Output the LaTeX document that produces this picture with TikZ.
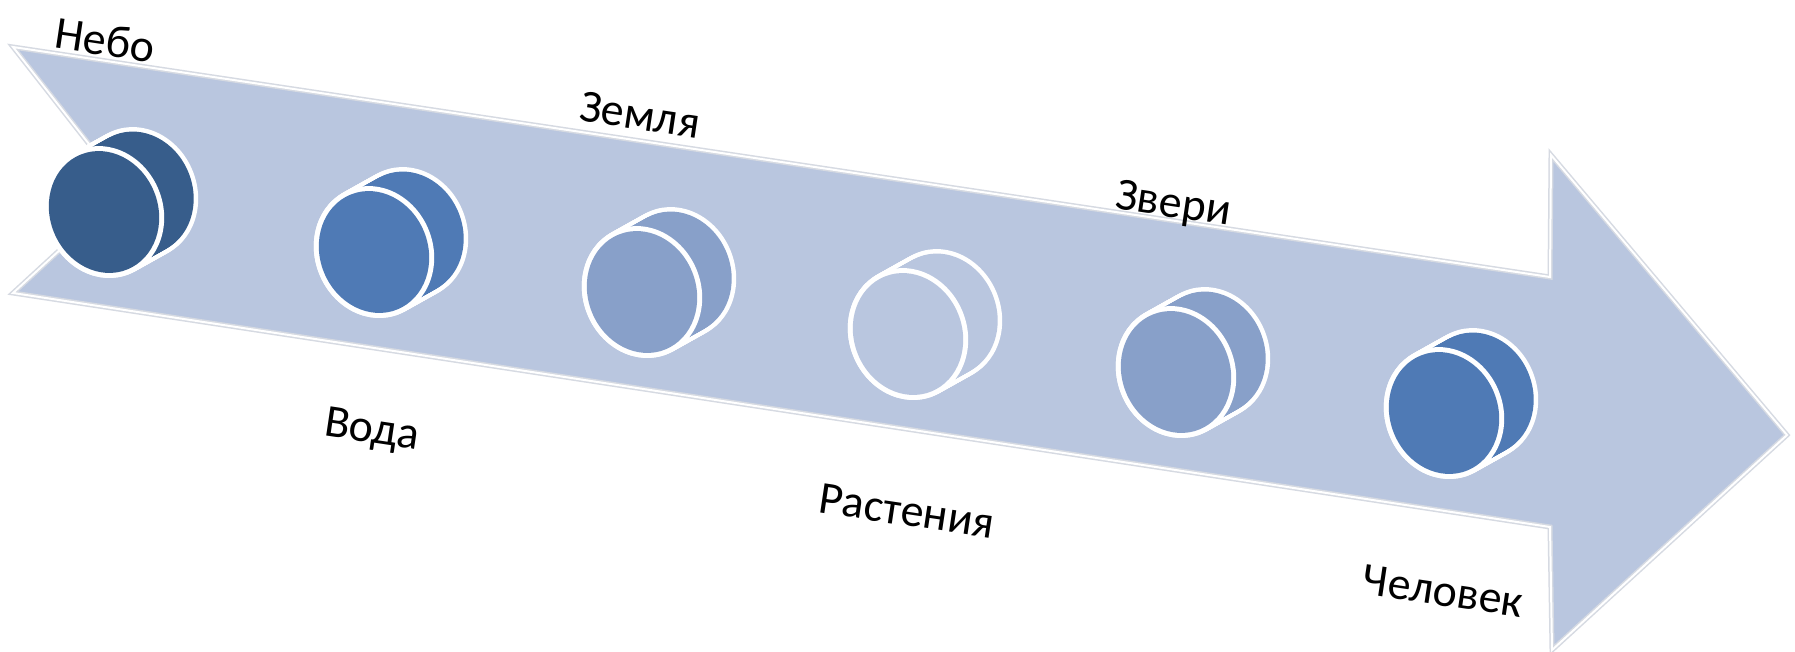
\documentclass[tikz,border=0pt]{standalone}
\usepackage{fontspec}
\setmainfont{Carlito}
\definecolor{arrowfill}{HTML}{B9C6DF}
\definecolor{edgegray}{HTML}{D6DAE2}
\definecolor{cdark}{HTML}{375D8B}
\definecolor{cmid}{HTML}{4F7AB5}
\definecolor{clight}{HTML}{88A0C9}
\tikzset{
  lbl/.style={font=\fontsize{46}{54}\selectfont, text=black, rotate=-8.5, inner sep=0pt},
}
\newcommand{\cylpart}[3]{% x, y, color
  \foreach \s in {0,0.05,...,1.001}{
    \fill[white, shift={({#1+\s*34},{#2-\s*19})}, rotate=22] (0,0) ellipse [x radius=59, y radius=67];
  }
  \foreach \s in {0,0.05,...,1.001}{
    \fill[#3, shift={({#1+\s*34},{#2-\s*19})}, rotate=22] (0,0) ellipse [x radius=54.5, y radius=62.5];
  }
  \fill[white, shift={(#1,#2)}, rotate=22] (0,0) ellipse [x radius=59, y radius=67];
  \fill[#3, shift={(#1,#2)}, rotate=22] (0,0) ellipse [x radius=54, y radius=62];
}
\begin{document}
\begin{tikzpicture}[x=1pt,y=-1pt]
\useasboundingbox (0,0) rectangle (1795,651);
\fill[white] (0,0) rectangle (1795,651);
% arrow body
\path[fill=arrowfill, draw=edgegray, line width=5, line join=miter]
  (13,47) -- (1550,277) -- (1551,155) -- (1787,435) -- (1552,650) -- (1550,527) -- (13,293) -- (125,190) -- cycle;
\draw[white, line width=2, line join=miter]
  (13,47) -- (1550,277) -- (1551,155) -- (1787,435) -- (1552,650) -- (1550,527) -- (13,293) -- (125,190) -- cycle;
% cylinders
\cylpart{104}{212}{cdark}
\cylpart{374}{252}{cmid}
\cylpart{642}{292}{clight}
\cylpart{908}{334}{arrowfill}
\cylpart{1176}{372}{clight}
\cylpart{1444}{413}{cmid}
% labels
\node[lbl] (nebo) at (105,40) {Небо};
\node[lbl] (zemlya) at (640,115) {Земля};
\node[lbl] (zveri) at (1173,206) {Звери};
\node[lbl] (voda) at (372,432) {Вода};
\node[lbl] (rasteniya) at (907,511) {Растения};
\node[lbl] (chelovek) at (1443,591) {Человек};
\end{tikzpicture}
\end{document}
